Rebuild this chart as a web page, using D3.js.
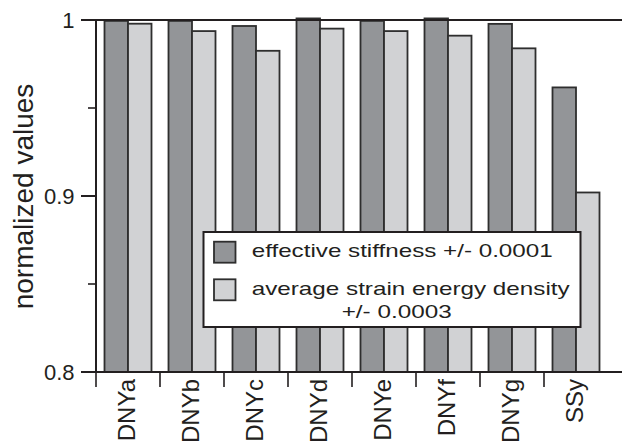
<!DOCTYPE html>
<html><head><meta charset="utf-8">
<script src="https://cdn.jsdelivr.net/npm/d3@7"></script>
<style>body{margin:0;background:#fff}svg{display:block;font-family:"Liberation Sans",Arial,sans-serif}</style>
</head><body>
<svg id="c" width="622" height="444"></svg>
<script>
const categories = ["DNYa","DNYb","DNYc","DNYd","DNYe","DNYf","DNYg","SSy"];
const stiffness = [0.9995,0.9995,0.9966,1.0009,0.9995,1.0009,0.9978,0.9617];
const strainEnergy = [0.9979,0.9937,0.9825,0.9951,0.9937,0.9911,0.9839,0.9020];
const seriesNames = ["effective stiffness +/- 0.0001","average strain energy density","+/- 0.0003"];
const yTicks = [0.8,0.9,1];
const yMinor = [0.85,0.95];

const svg = d3.select("#c");
const ink = "#231f20";
const colors = ["#939598","#d1d2d4"];
const x = d3.scaleBand().domain(categories).range([96,608]).padding(0);
const x1 = d3.scaleBand().domain([0,1]).range([8.5,55.5]).padding(0);
const y = d3.scaleLinear().domain([0.8,1]).range([372,20]);

// bars
const g = svg.append("g");
categories.forEach((c,i)=>{
  [stiffness[i],strainEnergy[i]].forEach((v,j)=>{
    g.append("rect")
      .attr("x", x(c)+x1(j)).attr("width", x1.bandwidth())
      .attr("y", y(v)).attr("height", y(0.8)-y(v))
      .attr("fill", colors[j]).attr("stroke", "#2e2e2e").attr("stroke-width",1.8);
  });
});

// reference line at 1
svg.append("line").attr("x1",88).attr("x2",622).attr("y1",y(1)).attr("y2",y(1))
  .attr("stroke",ink).attr("stroke-width",2);
// x axis line
svg.append("line").attr("x1",96).attr("x2",622).attr("y1",y(0.8)).attr("y2",y(0.8))
  .attr("stroke",ink).attr("stroke-width",2);
// y axis
svg.append("line").attr("x1",96).attr("x2",96).attr("y1",y(1)).attr("y2",y(0.8))
  .attr("stroke",ink).attr("stroke-width",2);
// y ticks
yTicks.forEach(t=>{
  svg.append("line").attr("x1",81).attr("x2",96).attr("y1",y(t)).attr("y2",y(t))
    .attr("stroke",ink).attr("stroke-width",2);
  svg.append("text").attr("x",74.5).attr("y",y(t)).attr("dy","0.36em")
    .attr("text-anchor","end").attr("font-size",22).attr("fill",ink).text(d3.format("~g")(t));
});
yMinor.forEach(t=>{
  svg.append("line").attr("x1",88).attr("x2",96).attr("y1",y(t)).attr("y2",y(t))
    .attr("stroke",ink).attr("stroke-width",1.6);
});
// x ticks and labels
categories.forEach(c=>{
  svg.append("line").attr("x1",x(c)).attr("x2",x(c)).attr("y1",y(0.8)).attr("y2",387)
    .attr("stroke",ink).attr("stroke-width",1.6);
  svg.append("text").attr("transform",`translate(${x(c)+x.bandwidth()/2},379) rotate(-90)`)
    .attr("dy","0.3em").attr("text-anchor","end").attr("font-size",24).attr("fill",ink).text(c);
});
// y title
svg.append("text").attr("transform","translate(33,196.5) rotate(-90)")
  .attr("text-anchor","middle").attr("font-size",28).attr("fill",ink).text("normalized values");

// legend
const lg = svg.append("g");
lg.append("rect").attr("x",203.5).attr("y",232).attr("width",377).attr("height",95)
  .attr("fill","#fff").attr("stroke",ink).attr("stroke-width",2);
[[241.7,0],[279.3,1]].forEach(([yy,j])=>{
  lg.append("rect").attr("x",214).attr("y",yy).attr("width",21.5).attr("height",21)
    .attr("fill",colors[j]).attr("stroke","#2e2e2e").attr("stroke-width",1.8);
});
lg.append("text").attr("x",251.7).attr("y",256.7).attr("font-size",19).attr("fill",ink)
  .attr("textLength",301).attr("lengthAdjust","spacingAndGlyphs").text(seriesNames[0]);
lg.append("text").attr("x",251.7).attr("y",295).attr("font-size",19).attr("fill",ink)
  .attr("textLength",318).attr("lengthAdjust","spacingAndGlyphs").text(seriesNames[1]);
lg.append("text").attr("x",341.7).attr("y",318.3).attr("font-size",19).attr("fill",ink)
  .attr("textLength",110).attr("lengthAdjust","spacingAndGlyphs").text(seriesNames[2]);
</script>
</body></html>
